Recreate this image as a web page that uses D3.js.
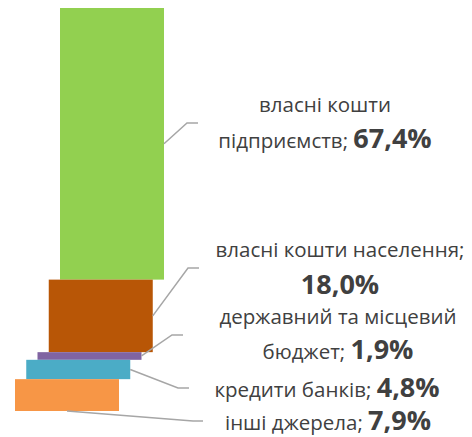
<!DOCTYPE html>
<html lang="uk">
<head>
<meta charset="UTF-8">
<title>Джерела фінансування</title>
<script src="https://d3js.org/d3.v7.min.js"></script>
<style>
  body { margin: 0; background: #fff; font-family: "Open Sans", sans-serif; }
  svg { display: block; }
  .lbl { fill: #404040; font-size: 20.5px; }
  .val { font-weight: bold; font-size: 27px; }
  .leader { fill: none; stroke: #a6a6a6; stroke-width: 1.5; }
</style>
</head>
<body>
<svg width="472" height="437"></svg>
<script>
// дані (зверху вниз)
const categories = ["власні кошти підприємств", "власні кошти населення",
  "державний та місцевий бюджет", "кредити банків", "інші джерела"];
const values = [67.4, 18.0, 1.9, 4.8, 7.9];
const valueLabels = ["67,4%", "18,0%", "1,9%", "4,8%", "7,9%"];
const colors = ["#92d050", "#b85606", "#8064a2", "#4bacc6", "#f79646"];

// рядки підписів: [текст, індекс значення або null]
const labelLines = [
  [["власні кошти", null], ["підприємств; ", 0]],
  [["власні кошти населення;", null], ["", 1]],
  [["державний та місцевий", null], ["бюджет; ", 2]],
  [["кредити банків; ", 3]],
  [["інші джерела; ", 4]]
];

const svg = d3.select("svg");
const y = d3.scaleLinear().domain([0, 100]).range([411, 8]);
const x = d3.scaleLinear().domain([0, categories.length - 1]).range([60, 15]);
const barW = 104;

// накопичення знизу вгору
const bars = [];
let acc = 0;
for (let i = values.length - 1; i >= 0; i--) {
  bars[i] = { i, y0: acc, y1: acc + values[i] };
  acc += values[i];
}

svg.selectAll("rect.bar").data(bars).enter().append("rect")
  .attr("class", "bar")
  .attr("x", d => x(d.i))
  .attr("y", d => y(d.y1))
  .attr("width", barW)
  .attr("height", d => y(d.y0) - y(d.y1))
  .attr("fill", d => colors[d.i]);

// лінії-виноски: точка згину
const elbows = [[187, 123, 198], [188, 268, 199], [172, 335, 183], [178, 388, 189], [193, 421, 203]];
svg.selectAll("path.leader").data(bars).enter().append("path")
  .attr("class", "leader")
  .attr("d", d => {
    let sx, sy;
    if (d.i === values.length - 1) { sx = x(d.i) + barW / 2; sy = y(d.y0); }
    else { sx = x(d.i) + barW; sy = (y(d.y0) + y(d.y1)) / 2; }
    const e = elbows[d.i];
    return `M${sx},${sy}L${e[0]},${e[1]}L${e[2]},${e[1]}`;
  });

// підписи
const lineY = [[112, 148], [257, 294], [324, 359], [397], [430]];
const centerX = [325, 340, 338, 327, 328];
labelLines.forEach((lines, k) => {
  lines.forEach((ln, j) => {
    const t = svg.append("text").attr("class", "lbl")
      .attr("x", centerX[k]).attr("y", lineY[k][j])
      .attr("text-anchor", "middle");
    if (ln[0]) t.append("tspan").text(ln[0]);
    if (ln[1] !== null) t.append("tspan").attr("class", "val").text(valueLabels[ln[1]]);
  });
});
</script>
</body>
</html>
